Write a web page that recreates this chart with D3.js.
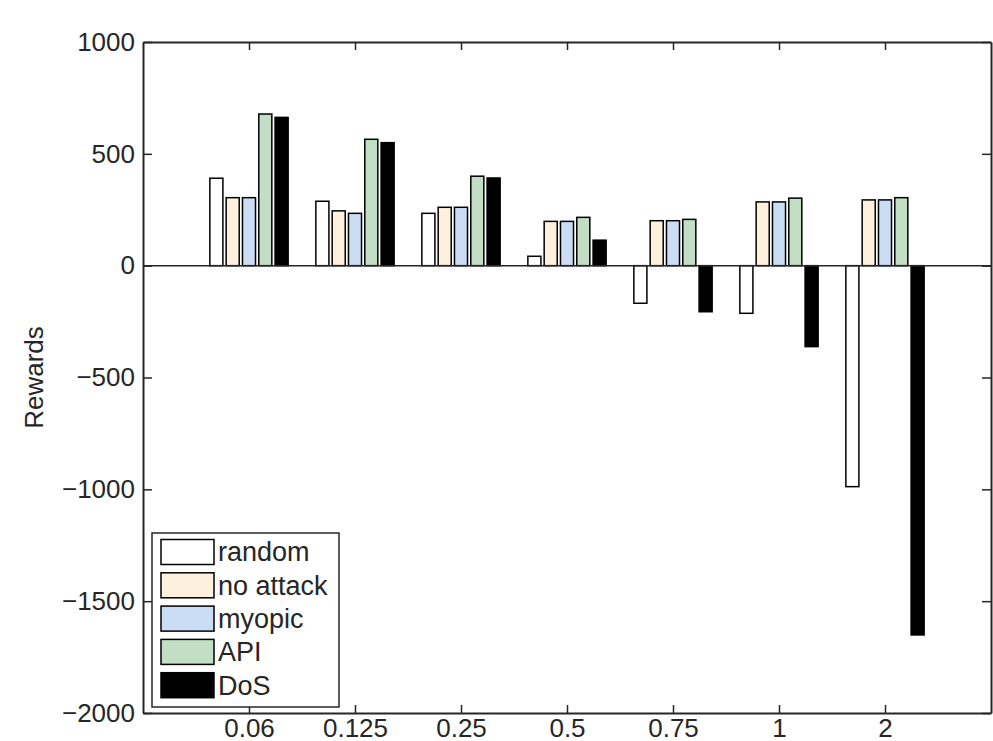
<!DOCTYPE html>
<html>
<head>
<meta charset="utf-8">
<script src="https://cdn.jsdelivr.net/npm/d3@7"></script>
<style>
  html, body { margin: 0; padding: 0; background: #fff; overflow: hidden; }
  text { font-family: "Liberation Sans", Arial, sans-serif; fill: #262626; }
</style>
</head>
<body>
<svg id="chart" width="993" height="741"></svg>
<script>
const categories = ["0.06", "0.125", "0.25", "0.5", "0.75", "1", "2"];
const seriesNames = ["random", "no attack", "myopic", "API", "DoS"];
const seriesColors = ["#ffffff", "#fdf1dd", "#cbddf5", "#c2dec5", "#000000"];
const randomVals   = [391, 288, 234, 42, -168, -213, -988];
const noAttackVals = [304, 245, 261, 198, 201, 285, 294];
const myopicVals   = [304, 234, 261, 198, 201, 285, 294];
const apiVals      = [678, 565, 400, 216, 207, 302, 304];
const dosVals      = [663, 550, 392, 114, -206, -362, -1651];
const yTicks = [-2000, -1500, -1000, -500, 0, 500, 1000];

const series = [randomVals, noAttackVals, myopicVals, apiVals, dosVals];

const svg = d3.select("#chart");
const mLeft = 143, mRight = 991, mTop = 42, mBottom = 713;
const axisColor = "#262626";
const fontSize = 26;

const x = d3.scaleLinear().domain([0, categories.length + 1]).range([mLeft, mRight]);
const y = d3.scaleLinear().domain([-2000, 1000]).range([mBottom, mTop]);

const nS = series.length;
const groupWidth = Math.min(0.8, nS / (nS + 1.5));
const step = groupWidth / nS;
const barW = step * 0.8;

// bars
series.forEach((vals, s) => {
  svg.append("g").selectAll("rect").data(vals).join("rect")
    .attr("x", (d, i) => x(i + 1 - groupWidth / 2 + step * s + (step - barW) / 2))
    .attr("width", x(barW) - x(0))
    .attr("y", d => y(Math.max(0, d)))
    .attr("height", d => Math.abs(y(d) - y(0)))
    .attr("fill", seriesColors[s])
    .attr("stroke", "#000")
    .attr("stroke-width", 1.5);
});

// zero line
svg.append("line")
  .attr("x1", mLeft).attr("x2", mRight)
  .attr("y1", y(0)).attr("y2", y(0))
  .attr("stroke", axisColor).attr("stroke-width", 1.5);

// axes
const tickLen = 9;
const xAxisB = d3.axisBottom(x).tickValues(d3.range(1, categories.length + 1))
  .tickFormat(d => categories[d - 1]).tickSizeInner(-8).tickSizeOuter(0).tickPadding(6);
const gxb = svg.append("g").attr("transform", `translate(0,${mBottom})`).call(xAxisB);
const xAxisT = d3.axisTop(x).tickValues(d3.range(1, categories.length + 1))
  .tickFormat("").tickSizeInner(-8).tickSizeOuter(0);
const gxt = svg.append("g").attr("transform", `translate(0,${mTop})`).call(xAxisT);
const yAxisL = d3.axisLeft(y).tickValues(yTicks).tickFormat(d => d < 0 ? "\u2212" + Math.abs(d) : d)
  .tickSizeInner(-tickLen).tickSizeOuter(0).tickPadding(8);
const gyl = svg.append("g").attr("transform", `translate(${mLeft},0)`).call(yAxisL);
const yAxisR = d3.axisRight(y).tickValues(yTicks).tickFormat("").tickSizeInner(-tickLen).tickSizeOuter(0);
const gyr = svg.append("g").attr("transform", `translate(${mRight},0)`).call(yAxisR);

[gxb, gxt, gyl, gyr].forEach(g => {
  g.select(".domain").attr("stroke", axisColor).attr("stroke-width", 2);
  g.selectAll(".tick line").attr("stroke", axisColor).attr("stroke-width", 1.5);
  g.selectAll(".tick text").attr("font-size", fontSize)
    .attr("font-family", "Liberation Sans, Arial, sans-serif").attr("fill", "#262626");
});
gyl.selectAll(".tick text").attr("x", -8);

// y label
svg.append("text")
  .attr("transform", `translate(${43},${(mTop + mBottom) / 2}) rotate(-90)`)
  .attr("text-anchor", "middle")
  .attr("font-size", fontSize)
  .text("Rewards");

// legend
const lg = svg.append("g");
lg.append("rect").attr("x", 152).attr("y", 533).attr("width", 187).attr("height", 174)
  .attr("fill", "#fff").attr("stroke", axisColor).attr("stroke-width", 1.5);
seriesNames.forEach((name, i) => {
  const cy = 552 + i * 33.3;
  lg.append("rect").attr("x", 161).attr("y", cy - 12.5).attr("width", 53).attr("height", 25)
    .attr("fill", seriesColors[i]).attr("stroke", "#000").attr("stroke-width", 1.5);
  lg.append("text").attr("x", 218).attr("y", cy).attr("dy", "0.35em")
    .attr("font-size", 27).text(name);
});
</script>
</body>
</html>
